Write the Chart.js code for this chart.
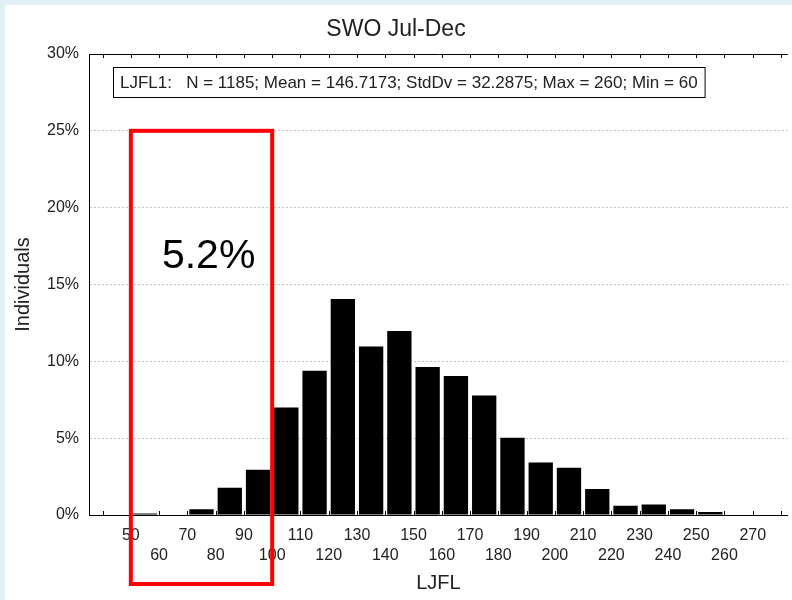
<!DOCTYPE html>
<html><head><meta charset="utf-8">
<script src="https://cdn.jsdelivr.net/npm/chart.js@4/dist/chart.umd.min.js"></script>
<style>html,body{margin:0;padding:0;background:#fff;}canvas{display:block}</style>
</head><body>
<canvas id="c" width="792" height="600"></canvas>
<script>
const chartTitle = 'SWO Jul-Dec';
const statsText = 'LJFL1:   N = 1185; Mean = 146.7173; StdDv = 32.2875; Max = 260; Min = 60';
const xAxisTitle = 'LJFL';
const yAxisTitle = 'Individuals';
const binStarts = [50, 60, 70, 80, 90, 100, 110, 120, 130, 140, 150, 160, 170, 180, 190, 200, 210, 220, 230, 240, 250];
const percents  = [0.1, 0, 0.37, 1.78, 2.95, 7.0, 9.39, 14.06, 10.96, 11.97, 9.63, 9.04, 7.78, 5.03, 3.42, 3.07, 1.69, 0.6, 0.69, 0.37, 0.2];
const xTickValues = [40, 50, 60, 70, 80, 90, 100, 110, 120, 130, 140, 150, 160, 170, 180, 190, 200, 210, 220, 230, 240, 250, 260, 270, 280];
const xTickLabels = ['', '50', '60', '70', '80', '90', '100', '110', '120', '130', '140', '150', '160', '170', '180', '190', '200', '210', '220', '230', '240', '250', '260', '270', ''];
const yTickValues = [0, 5, 10, 15, 20, 25, 30];
const highlightRange = [50, 100];
const highlightTop = 25;
const highlightLabel = '5.2%';

const FONT = "'Liberation Sans', Arial, sans-serif";
const TXT = '#222';

const decor = {
  id: 'decor',
  beforeDraw(chart) {
    const ctx = chart.ctx;
    ctx.save();
    ctx.fillStyle = '#e2f0f5';
    ctx.fillRect(0, 0, chart.width, chart.height);
    ctx.fillStyle = '#ffffff';
    ctx.fillRect(5, 5, chart.width - 5, chart.height - 5);
    ctx.restore();
  },
  afterDraw(chart) {
    const ctx = chart.ctx, a = chart.chartArea;
    const xs = chart.scales.x, ys = chart.scales.y;
    ctx.save();
    // top frame line
    ctx.strokeStyle = '#000'; ctx.lineWidth = 1;
    ctx.beginPath(); ctx.moveTo(a.left, a.top + 0.5); ctx.lineTo(a.right, a.top + 0.5); ctx.stroke();
    // inward tick marks on bottom and top
    ctx.beginPath();
    xs.ticks.forEach(t => {
      const px = Math.round(xs.getPixelForValue(t.value)) + 0.5;
      ctx.moveTo(px, a.bottom); ctx.lineTo(px, a.bottom - 4);
      ctx.moveTo(px, a.top); ctx.lineTo(px, a.top + 4);
    });
    ctx.stroke();
    // stats box
    ctx.font = '17px ' + FONT;
    ctx.fillStyle = TXT;
    ctx.textBaseline = 'middle';
    const bx = a.left + 24, by = a.top + 13, bh = 30;
    const tw = ctx.measureText(statsText).width;
    ctx.fillText(statsText, bx + 7, by + bh / 2 + 1);
    ctx.strokeStyle = '#000';
    ctx.strokeRect(bx + 0.5, by + 0.5, tw + 14, bh);
    // highlight rectangle
    const x1 = xs.getPixelForValue(highlightRange[0]);
    const x2 = xs.getPixelForValue(highlightRange[1]);
    const y1 = ys.getPixelForValue(highlightTop);
    const y2 = a.bottom + 69;
    ctx.strokeStyle = '#ff0000'; ctx.lineWidth = 4;
    ctx.strokeRect(x1, y1, x2 - x1, y2 - y1);
    ctx.font = '41px ' + FONT;
    ctx.fillStyle = '#000';
    ctx.textBaseline = 'alphabetic';
    ctx.textAlign = 'left';
    ctx.fillText(highlightLabel, xs.getPixelForValue(61), ys.getPixelForValue(16.1));
    ctx.restore();
  }
};

new Chart(document.getElementById('c'), {
  type: 'bar',
  data: {
    datasets: [{
      data: binStarts.map((s, i) => ({ x: s + 5, y: percents[i] })),
      backgroundColor: '#000',
      borderWidth: 0,
      barPercentage: 0.86,
      categoryPercentage: 1
    }]
  },
  options: {
    responsive: false,
    animation: false,
    devicePixelRatio: 1,
    layout: { padding: 0 },
    plugins: {
      legend: { display: false },
      tooltip: { enabled: false },
      title: {
        display: true, text: chartTitle, color: TXT,
        font: { family: FONT, size: 23, weight: 'normal' },
        padding: { top: 16, bottom: 10.4 }
      }
    },
    scales: {
      x: {
        type: 'linear', offset: false,
        min: 35.2, max: 282.4,
        afterBuildTicks: s => { s.ticks = xTickValues.map(v => ({ value: v })); },
        afterFit: s => { s.height = 85; },
        grid: { display: false, drawTicks: false },
        border: { display: true, color: '#000', width: 1 },
        ticks: {
          autoSkip: false, maxRotation: 0, padding: 11,
          color: TXT, font: { family: FONT, size: 16, lineHeight: 1.25 },
          callback: (v) => {
            const i = xTickValues.indexOf(v);
            const lab = i >= 0 ? xTickLabels[i] : '';
            return (Math.round(v / 10) % 2 === 1) ? [lab, ''] : ['', lab];
          }
        },
        title: { display: true, text: xAxisTitle, color: TXT, font: { family: FONT, size: 20 }, padding: { top: 5, bottom: 5 } }
      },
      y: {
        min: 0, max: 30,
        afterBuildTicks: s => { s.ticks = yTickValues.map(v => ({ value: v })); },
        afterFit: s => { s.width = 89; },
        grid: {
          drawTicks: false,
          color: c => (c.tick && (c.tick.value === 0 || c.tick.value === 30)) ? 'rgba(0,0,0,0)' : '#c4c4c4'
        },
        border: { display: true, color: '#000', width: 1, dash: [2, 2] },
        ticks: {
          padding: 10, color: TXT,
          font: { family: FONT, size: 16 },
          callback: v => v + '%'
        },
        title: { display: true, text: yAxisTitle, color: TXT, font: { family: FONT, size: 20 }, padding: { top: 11, bottom: 11 } }
      }
    }
  },
  plugins: [decor]
});
</script>
</body></html>
